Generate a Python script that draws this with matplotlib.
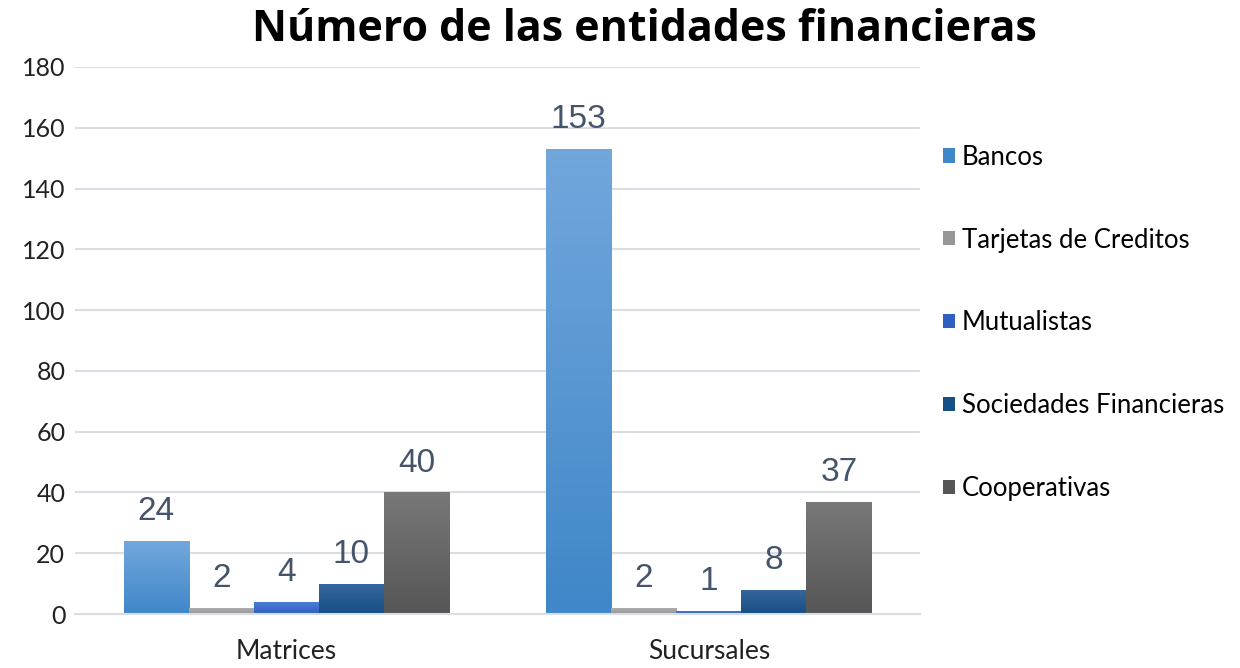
import numpy as np
import matplotlib
matplotlib.use('Agg')
import matplotlib.pyplot as plt
from matplotlib.colors import LinearSegmentedColormap

plt.rcParams['font.family'] = ['Lato', 'DejaVu Sans']

categorias = ["Matrices", "Sucursales"]
series = ["Bancos", "Tarjetas de Creditos", "Mutualistas",
          "Sociedades Financieras", "Cooperativas"]
bancos = [24, 153]
tarjetas = [2, 2]
mutualistas = [4, 1]
sociedades = [10, 8]
cooperativas = [40, 37]
valores = [bancos, tarjetas, mutualistas, sociedades, cooperativas]

# colores (arriba, abajo) para el degradado de cada serie
colores = [("#72a7dc", "#3f87c8"),
           ("#b0b0b0", "#979797"),
           ("#4a7fd6", "#2f5fc0"),
           ("#36679c", "#164e86"),
           ("#787878", "#565656")]

fig = plt.figure(figsize=(12.4, 6.68), dpi=100)
ax = fig.add_axes([0.0605, 0.0808, 0.6815, 0.819])

x = np.arange(len(categorias))
ancho = 0.154
for i, (nombre, vals) in enumerate(zip(series, valores)):
    pos = x + (i - 2) * ancho
    barras = ax.bar(pos, vals, ancho, color=colores[i][1], label=nombre, zorder=2)
    cmap = LinearSegmentedColormap.from_list(nombre, [colores[i][1], colores[i][0]])
    for b in barras:
        x0, y0 = b.get_x(), b.get_y()
        w, h = b.get_width(), b.get_height()
        img = ax.imshow(np.linspace(0, 1, 64).reshape(-1, 1), cmap=cmap, aspect='auto',
                        origin='lower', extent=[x0, x0 + w, y0, y0 + h], zorder=2)
        img.set_clip_path(b)
    for b, v in zip(barras, vals):
        ax.annotate(str(v), (b.get_x() + b.get_width() / 2, b.get_height()),
                    xytext=(0, 10), textcoords='offset points', ha='center', va='bottom',
                    fontsize=24, color='#44546a', family=['Liberation Sans', 'DejaVu Sans'])

ax.set_xlim(-0.5, 1.5)
ax.set_ylim(0, 180)
ax.set_yticks(range(0, 181, 20))
ax.set_xticks(x)
ax.set_xticklabels(categorias, fontsize=19)
ax.tick_params(axis='y', labelsize=18, length=0, pad=7, labelcolor='#222222')
ax.tick_params(axis='x', length=0, pad=18, labelcolor='#222222')
ax.grid(axis='y', color='#d9dde4', linewidth=1.5, zorder=0)
ax.set_axisbelow(True)
for s in ['top', 'right', 'left']:
    ax.spines[s].set_visible(False)
ax.spines['bottom'].set_color('#d9dde4')
ax.spines['bottom'].set_linewidth(1.5)

fig.suptitle("Número de las entidades financieras", x=0.52, y=0.988,
             fontsize=31, fontweight='bold', family=['Open Sans', 'DejaVu Sans'])

handles, labels = ax.get_legend_handles_labels()
fig.legend(handles, labels, loc='upper left', bbox_to_anchor=(0.742, 0.818),
           frameon=False, fontsize=18.5, labelspacing=2.25, handlelength=0.47,
           handleheight=0.47, handletextpad=0.25)

fig.savefig("out.png", dpi=100)
